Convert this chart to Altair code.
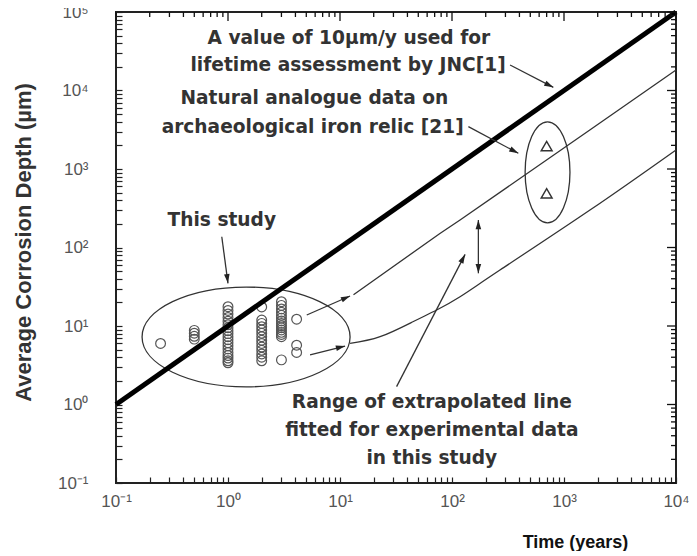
import math
import altair as alt
import pandas as pd

W, H = 560, 471
XMIN, XMAX = 0.1, 10000
YMIN, YMAX = 0.1, 100000
XPX = W / math.log10(XMAX / XMIN)   # pixels per decade
YPX = H / math.log10(YMAX / YMIN)

# ---------------- data ----------------
# this study: exposure time (years) and measured corrosion depths (um)
study_times = [0.25, 0.5, 1.0, 2.0, 3.0, 4.1]
study_depths = [
    [6.0],
    [6.8, 7.4, 8.1, 8.8],
    [17.6, 15.8, 14.2, 12.8, 11.5, 10.4, 9.5, 8.7, 8.0, 7.3, 6.7, 6.1, 5.6, 5.1, 4.6, 4.2, 3.9, 3.6, 3.4],
    [17.5, 11.9, 10.8, 9.8, 8.9, 8.1, 7.3, 6.6, 6.0, 5.4, 4.9, 4.4, 4.0, 3.6],
    [20.4, 18.3, 16.5, 15.0, 13.7, 12.6, 11.6, 10.8, 10.1, 9.5, 8.9, 8.3, 7.8, 7.3, 3.7],
    [12.2, 5.7, 4.6],
]

# archaeological iron relics
relic_x = [700, 700]
relic_y = [1960, 490]

# 10 um/y line used by JNC
jnc_x = [0.1, 10000]
jnc_y = [1, 100000]

# range of extrapolated lines
upper_x = [13.2, 78, 118, 1700, 10000]
upper_y = [25, 151, 224, 3140, 18200]
lower_x = [12.3, 22.8, 45.2, 73, 118, 268, 1706, 10000]
lower_y = [6.0, 7.3, 11.4, 16.0, 23.6, 51.6, 300, 1750]

# annotation texts (centre positions in data units)
note_text = [
    "A value of 10µm/y used for",
    "lifetime assessment by JNC[1]",
    "Natural analogue data on",
    "archaeological iron relic [21]",
    "This study",
    "Range of extrapolated line",
    "fitted for experimental data",
    "in this study",
]
note_x = [12.0, 11.8, 5.9, 5.7, 0.88, 66, 66, 66]
note_y = [46700, 21100, 8020, 3430, 224, 1.09, 0.473, 0.208]

# arrows: start -> end (data units), heads at end (and start if double)
arrow_x1 = [0.88, 330, 140, 5.05, 5.4, 32, 172]
arrow_y1 = [137, 21100, 3460, 13.8, 4.28, 1.69, 224]
arrow_x2 = [1.0, 803, 391, 12.3, 11.1, 131, 172]
arrow_y2 = [35, 10960, 1585, 24.1, 5.56, 81.8, 46.9]
arrow_double = [False, False, False, False, False, False, True]

# grouping ellipses (centre in data units)
ell_x = [1.45, 713]
ell_y = [7.25, 908]

# axis ticks
x_major = [0.1, 1, 10, 100, 1000, 10000]
y_major = [0.1, 1, 10, 100, 1000, 10000, 100000]
x_minor = [k * 10.0 ** d for d in range(-1, 4) for k in range(2, 10)]
y_minor = [k * 10.0 ** d for d in range(-1, 5) for k in range(2, 10)]

# ---------------- helpers ----------------
xs = alt.Scale(type="log", domain=[XMIN, XMAX], nice=False)
ys = alt.Scale(type="log", domain=[YMIN, YMAX], nice=False)

is_dec = "abs(log(datum.value)/LN10 - round(log(datum.value)/LN10)) < 1e-6"
sup = "['⁻¹','⁰','¹','²','³','⁴','⁵'][round(log(datum.value)/LN10)+1]"
lab_expr = f"{is_dec} ? '10' + {sup} : ''"
lab_font = "Liberation Sans"

# inward ticks: axis line pulled 6px inside the frame, ticks pointing back out to it
XA = alt.Axis(
    values=sorted(x_major + x_minor), labelExpr=lab_expr, title="Time (years)",
    tickSize=6, tickColor="#222", tickWidth=1.2, offset=-6, labelOverlap=False,
    domain=False, grid=False, labelPadding=10, labelFlush=False,
    labelFont=lab_font, labelFontSize=17, labelColor="#555",
    titleFont=lab_font, titleFontSize=18, titleFontWeight="bold", titleColor="#111",
    titleX=459, titleY=65, titleAlign="center", titleBaseline="middle")
YA = alt.Axis(
    values=sorted(y_major + y_minor), labelExpr=lab_expr, title="Average Corrosion Depth (µm)",
    tickSize=6, tickColor="#222", tickWidth=1.2, offset=-6, labelOverlap=False,
    domain=False, grid=False, labelPadding=28, labelFlush=False,
    labelFont=lab_font, labelFontSize=17, labelColor="#555",
    titleFont=lab_font, titleFontSize=22, titleFontWeight="bold", titleColor="#333",
    titleX=-99, titleY=230, titleAlign="center", titleBaseline="middle")


def X(f="x"):
    return alt.X(f"{f}:Q", scale=xs, axis=XA)


def Y(f="y"):
    return alt.Y(f"{f}:Q", scale=ys, axis=YA)


# ---------------- layers ----------------
rows = [(t, d) for t, ds in zip(study_times, study_depths) for d in ds]
study_df = pd.DataFrame(rows, columns=["x", "y"])

# top / right inward ticks drawn as short line-segment symbols on the frame
TICK_PATH = {"top": "M0,0 L0,2", "right": "M0,0 L-2,0"}
trows = []
for vals, ln in [(x_major, 9), (x_minor, 5)]:
    for v in vals:
        trows.append((v, YMAX, TICK_PATH["top"], ln * ln))
for vals, ln in [(y_major, 9), (y_minor, 5)]:
    for v in vals:
        trows.append((XMAX, v, TICK_PATH["right"], ln * ln))
tick_df = pd.DataFrame(trows, columns=["x", "y", "path", "sz"])

tick_layer = alt.Chart(tick_df).mark_point(
    filled=False, color="#111", strokeWidth=1.3, opacity=1
).encode(
    x=X(), y=Y(),
    shape=alt.Shape("path:N", scale=None, legend=None),
    size=alt.Size("sz:Q", scale=None, legend=None),
)


def ellipse_path(a, b):
    k = 0.5523
    return (f"M{a},0 C{a},{k*b} {k*a},{b} 0,{b} C{-k*a},{b} {-a},{k*b} {-a},0 "
            f"C{-a},{-k*b} {-k*a},{-b} 0,{-b} C{k*a},{-b} {a},{-k*b} {a},0 Z")


ell1 = alt.Chart(pd.DataFrame({"x": [ell_x[0]], "y": [ell_y[0]]})).mark_point(
    shape=ellipse_path(1, 0.48), size=208 ** 2, filled=False, color="#333", strokeWidth=1.3, opacity=1
).encode(x=X(), y=Y())
ell2 = alt.Chart(pd.DataFrame({"x": [ell_x[1]], "y": [ell_y[1]]})).mark_point(
    shape=ellipse_path(0.444, 1), size=101 ** 2, filled=False, color="#333", strokeWidth=1.3, opacity=1
).encode(x=X(), y=Y())

upper = alt.Chart(pd.DataFrame({"x": upper_x, "y": upper_y})).mark_line(
    color="#333", strokeWidth=1.3).encode(x=X(), y=Y())
lower = alt.Chart(pd.DataFrame({"x": lower_x, "y": lower_y})).mark_line(
    color="#333", strokeWidth=1.3, interpolate="natural").encode(x=X(), y=Y())

study = alt.Chart(study_df).mark_point(
    shape="circle", size=95, filled=False, color="#555", strokeWidth=1.2, opacity=1
).encode(x=X(), y=Y())

jnc = alt.Chart(pd.DataFrame({"x": jnc_x, "y": jnc_y})).mark_line(
    color="#000", strokeWidth=5).encode(x=X(), y=Y())

relic = alt.Chart(pd.DataFrame({"x": relic_x, "y": relic_y})).mark_point(
    shape="triangle-up", size=120, filled=False, color="#333", strokeWidth=1.4, opacity=1
).encode(x=X(), y=Y())

adf = pd.DataFrame({"x": arrow_x1, "y": arrow_y1, "x2": arrow_x2, "y2": arrow_y2})
arrows = alt.Chart(adf).mark_rule(color="#333", strokeWidth=1.3).encode(
    x=X(), y=Y(), x2="x2:Q", y2="y2:Q")


def head_angle(xa, ya, xb, yb):
    dx = (math.log10(xb) - math.log10(xa)) * XPX
    dy = -(math.log10(yb) - math.log10(ya)) * YPX
    return math.degrees(math.atan2(dx, -dy)) % 360


heads = []
for x1, y1, x2, y2, dbl in zip(arrow_x1, arrow_y1, arrow_x2, arrow_y2, arrow_double):
    heads.append((x2, y2, head_angle(x1, y1, x2, y2)))
    if dbl:
        heads.append((x1, y1, head_angle(x2, y2, x1, y1)))
hdf = pd.DataFrame(heads, columns=["x", "y", "angle"])
arrow_heads = alt.Chart(hdf).mark_point(
    shape="M0,0 L0.7,2.3 L-0.7,2.3 Z", size=64, filled=True, color="#222", opacity=1
).encode(x=X(), y=Y(), angle=alt.Angle("angle:Q", scale=None))

tdf = pd.DataFrame({"x": note_x, "y": note_y, "t": note_text})
notes = alt.Chart(tdf).mark_text(
    font="DejaVu Sans", fontWeight="bold", fontSize=18.6, color="#333",
    align="center", baseline="middle").encode(x=X(), y=Y(), text="t:N")

chart = alt.layer(
    study, ell1, ell2, upper, lower, jnc, relic,
    arrows, arrow_heads, notes, tick_layer
).properties(
    width=W, height=H,
    autosize=alt.AutoSizeParams(type="none"),
    padding={"left": 108, "top": 4, "right": 13, "bottom": 68},
).configure_view(stroke="#222", strokeWidth=2)

chart.save("out.html", embed_options={"renderer": "svg", "actions": False})
